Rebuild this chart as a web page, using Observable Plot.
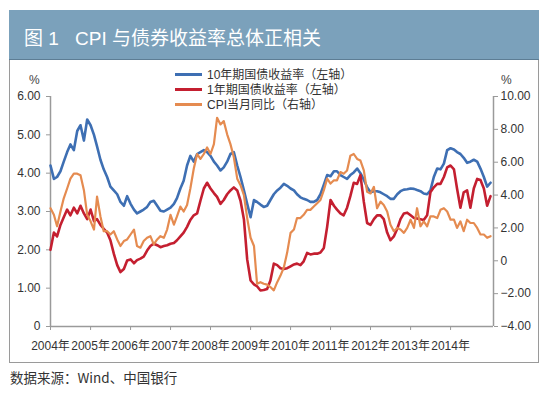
<!DOCTYPE html>
<html><head><meta charset="utf-8">
<script src="https://cdn.jsdelivr.net/npm/d3@7"></script>
<script src="https://cdn.jsdelivr.net/npm/@observablehq/plot@0.6"></script>
<style>
body{margin:0;background:#fff;}
#wrap{position:relative;width:550px;height:393px;font-family:"Liberation Sans","Noto Sans CJK SC",sans-serif;overflow:hidden;background:#fff}
#frame{position:absolute;left:9px;top:10px;width:530px;height:353px;border:1px solid #9a9a9a;box-sizing:border-box}
#bar{position:absolute;left:9px;top:10px;width:530px;height:50px;background:#7ba1bb;border-bottom:1px solid #5d7d94;box-sizing:border-box}
#bar span{position:absolute;top:13px;color:#fff;font-size:19px;font-family:"Liberation Sans","Noto Sans CJK SC",sans-serif;white-space:nowrap}
#chart{position:absolute;left:0;top:60px}
.pct{position:absolute;font-size:12px;color:#444}
.leg{position:absolute;left:175px;font-size:12px;color:#333;white-space:nowrap;font-family:"Liberation Sans","Noto Sans CJK SC",sans-serif}
.leg i{display:inline-block;width:27px;height:3px;vertical-align:middle;margin-right:5px;position:relative;top:-1px}
#cap{position:absolute;left:10px;top:367px;font-size:13.5px;color:#333;font-family:"Noto Sans CJK SC",sans-serif}
</style></head>
<body>
<div id="wrap">
  <div id="frame"></div>
  <div id="bar"><span style="left:15px">图 1</span><span style="left:66px">CPI 与债券收益率总体正相关</span></div>
  <div id="chart"></div>
  <div class="pct" style="left:29px;top:73px">%</div>
  <div class="pct" style="left:501px;top:73px">%</div>
  <div class="leg" style="top:65px"><i style="background:#3e6fb3"></i>10年期国债收益率（左轴）</div>
  <div class="leg" style="top:80px"><i style="background:#c41f30"></i>1年期国债收益率（左轴）</div>
  <div class="leg" style="top:95px"><i style="background:#e58b50"></i>CPI当月同比（右轴）</div>
  <div id="cap">数据来源：Wind、中国银行</div>
</div>
<script>
// 10-year government bond yield, %, monthly from 2004-01 (left axis)
const y10 = [
  4.2,3.85,3.9,4.05,4.3,4.55,4.75,4.6,5.1,5.25,4.85,5.4,
  5.25,5.0,4.7,4.35,4.1,3.9,3.65,3.55,3.45,3.25,3.15,3.4,
  3.2,3.05,2.95,3.0,3.05,3.12,3.25,3.28,3.15,3.02,3.0,3.05,
  3.1,3.2,3.35,3.6,3.8,4.2,4.45,4.3,4.5,4.55,4.6,4.55,
  4.45,4.3,4.2,4.07,4.15,4.3,4.5,4.55,4.2,3.9,3.55,3.2,
  2.85,3.3,3.25,3.18,3.12,3.15,3.3,3.45,3.55,3.62,3.72,3.67,
  3.6,3.55,3.45,3.37,3.33,3.3,3.25,3.25,3.3,3.45,3.7,3.95,
  3.92,4.05,4.05,3.95,3.9,3.85,3.95,4.02,4.12,4.0,3.83,3.63,
  3.5,3.53,3.53,3.5,3.45,3.4,3.33,3.33,3.45,3.53,3.57,3.58,
  3.6,3.59,3.56,3.53,3.47,3.45,3.55,3.9,4.12,4.1,4.25,4.6,
  4.65,4.62,4.55,4.5,4.4,4.27,4.3,4.35,4.3,4.12,3.9,3.65,
  3.75
];
// 1-year government bond yield, %, monthly from 2004-01 (left axis)
const y1 = [
  2.0,2.45,2.35,2.65,2.85,3.05,2.9,3.1,2.95,3.15,2.95,2.8,
  3.05,2.75,2.8,2.65,2.55,2.45,2.25,1.9,1.6,1.42,1.5,1.72,
  1.75,1.65,1.73,1.77,1.82,1.98,2.1,2.16,2.12,2.07,2.1,2.12,
  2.16,2.18,2.25,2.35,2.45,2.6,2.78,2.9,2.95,3.28,3.6,3.75,
  3.6,3.48,3.38,3.2,3.3,3.45,3.55,3.63,3.55,3.28,2.8,1.75,
  1.2,1.1,1.05,0.94,0.95,0.98,1.2,1.64,1.6,1.52,1.5,1.52,
  1.57,1.62,1.64,1.6,1.7,1.92,1.88,1.9,1.9,1.93,2.05,2.6,
  3.3,3.15,3.05,2.95,2.9,3.1,3.4,3.75,3.72,3.95,3.25,2.7,
  2.65,2.8,2.9,2.9,2.8,2.45,2.25,2.35,2.55,2.8,2.95,2.97,
  2.9,2.83,2.82,2.8,2.78,2.9,3.5,3.63,3.72,3.72,3.9,4.15,
  4.2,4.1,3.6,3.1,3.5,3.55,3.1,3.6,3.85,3.82,3.6,3.15,
  3.4
];
// CPI year-on-year, %, monthly from 2003-12 (right axis)
const cpi = [
  3.2,
  2.8,2.1,3.0,3.8,4.4,5.0,5.3,5.3,5.2,4.3,2.8,2.4,
  1.9,3.9,2.7,1.8,1.8,1.6,1.8,1.3,0.9,1.2,1.3,1.6,
  1.9,0.9,0.8,1.2,1.4,1.5,1.0,1.3,1.5,1.4,1.9,2.8,
  2.2,2.7,3.3,3.0,3.4,4.4,5.6,6.5,6.2,6.5,6.9,6.5,
  7.1,8.7,8.3,8.5,7.7,7.1,6.3,5.0,4.6,4.0,2.6,1.4,
  0.9,-1.4,-1.3,-1.4,-1.45,-1.6,-1.8,-1.3,-0.9,-0.4,0.5,1.7,
  1.9,2.6,2.6,2.8,3.1,3.1,3.3,3.5,3.7,4.3,5.0,4.7,
  4.9,4.9,5.4,5.3,5.5,6.4,6.5,6.2,6.1,5.5,4.2,4.1,
  4.5,3.2,3.6,3.4,3.0,2.2,1.8,2.0,1.9,1.7,2.0,2.5,
  2.0,3.2,2.1,2.4,2.1,2.7,2.7,2.6,3.1,3.2,3.0,2.5,
  2.5,2.0,2.4,1.8,2.5,2.3,2.3,2.0,1.6,1.6,1.4,1.5
];
const years = [2004,2005,2006,2007,2008,2009,2010,2011,2012,2013,2014];
const leftTicks = [0,1,2,3,4,5,6];
const rightTicks = [-4,-2,0,2,4,6,8,10];

const toL = c => (c + 4) * 6 / 14;           // right-axis value -> left-axis units
const fromL = v => Math.round(v * 14 / 6 - 4);
const dateOf = i => new Date(Date.UTC(2004, i, 1));
const bond = y10.map((v, i) => ({date: dateOf(i), y10: v, y1: y1[i]}));
const cpiData = cpi.map((v, i) => ({date: dateOf(i), v: toL(v)}));
const x0 = new Date(Date.UTC(2004,0,1)), x1 = new Date(Date.UTC(2015,0,28));
const fmt = n => n === 0 ? "0" : (n < 0 ? "\u2212" + Math.abs(n).toFixed(2) : n.toFixed(2));
const axisGray = "#9a9a9a";

const chart = Plot.plot({
  width: 550, height: 300,
  marginLeft: 50, marginRight: 57, marginTop: 36, marginBottom: 34,
  x: {type: "utc", domain: [x0, x1]},
  y: {domain: [0, 6]},
  style: {fontFamily: "'Liberation Sans','Noto Sans CJK SC',sans-serif", fontSize: "12px", color: "#333", background: "transparent"},
  marks: [
    Plot.ruleX([x0], {stroke: axisGray, strokeWidth: 1.5}),
    Plot.ruleX([x1], {stroke: axisGray, strokeWidth: 1.5}),
    Plot.ruleY([0], {stroke: axisGray, strokeWidth: 1.5}),
    Plot.axisX({ticks: years.map(y => new Date(Date.UTC(y,0,1))), tickFormat: d => d.getUTCFullYear() + "年", tickSize: 4, tickPadding: 11, stroke: axisGray, fill: "#333", label: null}),
    Plot.axisY({anchor: "left", ticks: leftTicks, tickFormat: fmt, tickSize: 4, tickPadding: 6, stroke: axisGray, fill: "#333", label: null}),
    Plot.axisY({anchor: "right", ticks: rightTicks.map(toL), tickFormat: v => fmt(fromL(v)), tickSize: 4, tickPadding: 3, stroke: axisGray, fill: "#333", label: null}),
    Plot.lineY(bond, {x: "date", y: "y10", stroke: "#3e6fb3", strokeWidth: 2.6}),
    Plot.lineY(bond, {x: "date", y: "y1", stroke: "#c41f30", strokeWidth: 2.6}),
    Plot.lineY(cpiData, {x: "date", y: "v", stroke: "#e58b50", strokeWidth: 2.2})
  ]
});
document.getElementById("chart").appendChild(chart);
</script>
</body></html>
